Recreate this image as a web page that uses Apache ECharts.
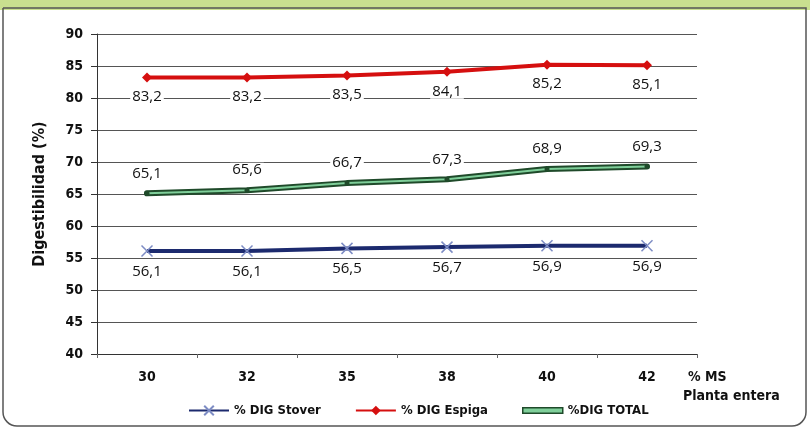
<!DOCTYPE html>
<html><head><meta charset="utf-8">
<script src="https://cdn.jsdelivr.net/npm/echarts@6/dist/echarts.min.js"></script>
<style>html,body{margin:0;padding:0;background:#fff}#c{width:810px;height:430px}</style>
</head><body><div id="c"></div>
<script>
const categories = ['30','32','35','38','40','42'];
const stover = [56.1, 56.1, 56.5, 56.7, 56.9, 56.9];
const espiga = [83.2, 83.2, 83.5, 84.1, 85.2, 85.1];
const total = [65.1, 65.6, 66.7, 67.3, 68.9, 69.3];
const yTicks = [40,45,50,55,60,65,70,75,80,85,90];
const seriesNames = ['% DIG Stover','% DIG Espiga','%DIG TOTAL'];

const fmt = v => String(v.toFixed(1)).replace('.', ',');
const tickFont = "'DejaVu Sans Condensed','Liberation Sans',Arial,sans-serif";
const labelFont = "'Open Sans','Noto Sans',sans-serif";
const crossPath = 'path://M0,0L10,10M10,0L0,10';
const lbl = {fontFamily: labelFont, fontSize:15, color:'#111', backgroundColor:'#fff', padding:[0,2]};

const chart = echarts.init(document.getElementById('c'));
chart.setOption({
  animation: false,
  backgroundColor: '#fff',
  graphic: [
    {type:'rect', shape:{x:0,y:0,width:810,height:10}, style:{fill:'#c9e08f'}, z:-1},
    {type:'rect', shape:{x:3,y:8,width:803,height:418,r:[0,0,14,14]}, style:{fill:'none',stroke:'#555',lineWidth:1.5}, z:-1},
    {type:'text', left:688, top:370, style:{text:'% MS', font:"bold 14px "+tickFont, fill:'#111'}},
    {type:'text', left:683, top:389, style:{text:'Planta entera', font:"bold 14px "+tickFont, fill:'#111'}}
  ],
  grid: {left:97, right:113, top:34, bottom:76, containLabel:false},
  legend: {
    bottom: 8, left: 183, itemGap: 34, itemWidth: 40, itemHeight: 12,
    textStyle: {fontFamily: tickFont, fontWeight:'bold', fontSize: 13, color:'#111'},
    data: [
      {name: seriesNames[0]},
      {name: seriesNames[1]},
      {name: seriesNames[2], icon: 'path://M0,0L42,0L42,6L0,6Z', itemStyle:{color:'#7fcf9a', borderColor:'#1f4a2a', borderWidth:1.5}}
    ]
  },
  xAxis: {
    type: 'category', data: categories, boundaryGap: true,
    axisLine: {lineStyle:{color:'#333', width:1}},
    axisTick: {show:true, length:4, lineStyle:{color:'#666'}},
    axisLabel: {fontFamily: tickFont, fontWeight:'bold', fontSize:14, color:'#111', margin:16}
  },
  yAxis: {
    type: 'value', min: yTicks[0], max: yTicks[yTicks.length-1], interval: 5,
    name: 'Digestibilidad (%)', nameLocation:'middle', nameGap: 49, nameRotate: 90,
    nameTextStyle: {fontFamily: tickFont, fontWeight:'bold', fontSize:16, color:'#111'},
    axisLine: {show:true, lineStyle:{color:'#333', width:1}},
    axisTick: {show:true, length:6, lineStyle:{color:'#333'}},
    axisLabel: {fontFamily: tickFont, fontWeight:'bold', fontSize:14, color:'#111', margin:14},
    splitLine: {lineStyle:{color:'#555', width:1}}
  },
  series: [
    {
      name: seriesNames[0], type:'line', data: stover, smooth:false,
      symbol: crossPath, symbolSize: 11,
      itemStyle: {color:'#1c2a6e', borderColor:'#7d8cc4', borderWidth:1.5},
      lineStyle: {color:'#1c2a6e', width:4},
      label: Object.assign({show:true, position:'bottom', distance:7, formatter: p => fmt(p.value)}, lbl)
    },
    {
      name: seriesNames[1], type:'line', data: espiga,
      symbol: 'diamond', symbolSize: 10,
      itemStyle: {color:'#d50f0f'},
      lineStyle: {color:'#d50f0f', width:4},
      label: Object.assign({show:true, position:'bottom', distance:7, formatter: p => fmt(p.value)}, lbl)
    },
    {
      name: seriesNames[2], type:'line', data: total,
      symbol: 'circle', symbolSize: 5, showSymbol: true,
      itemStyle: {color:'#1f4a2a'},
      lineStyle: {color:'#1f4a2a', width:6, cap:'round'},
      label: Object.assign({show:true, position:'top', distance:10, formatter: p => fmt(p.value)}, lbl)
    },
    {
      name: seriesNames[2] + ' inner', type:'line', data: total,
      symbol: 'none', silent: true, legendHoverLink:false,
      lineStyle: {color:'#7fcf9a', width:2},
      z: 3
    }
  ]
});
</script></body></html>
